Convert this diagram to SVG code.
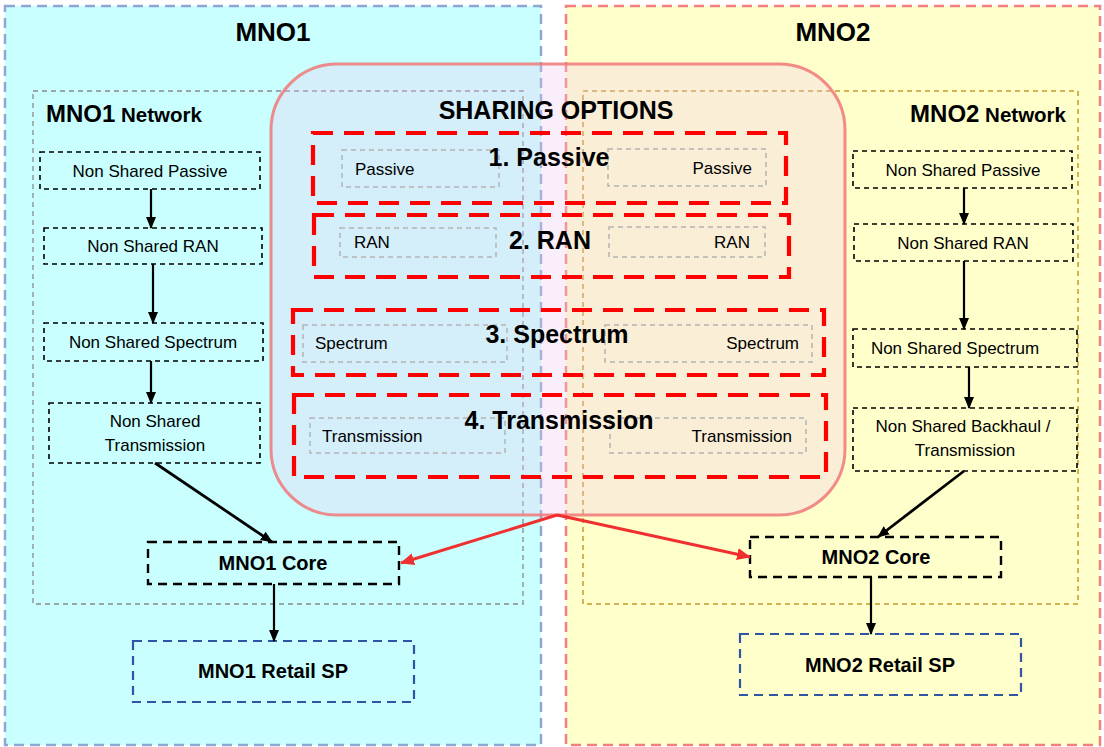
<svg xmlns="http://www.w3.org/2000/svg" width="1104" height="747" viewBox="0 0 1104 747">
<defs>
<marker id="ab" markerUnits="userSpaceOnUse" markerWidth="12" markerHeight="12" viewBox="0 0 12 12" refX="11" refY="6" orient="auto"><path d="M0,1 L12,6 L0,11 Z" fill="#000"/></marker>
<marker id="ar" markerUnits="userSpaceOnUse" markerWidth="14" markerHeight="14" viewBox="0 0 14 14" refX="13" refY="7" orient="auto"><path d="M0,1 L14,7 L0,13 Z" fill="#f03030"/></marker>
</defs>
<style>
text{font-family:"Liberation Sans",Arial,sans-serif;fill:#000}
.t{font-size:17px}
.b{font-weight:bold}
.c{text-anchor:middle}
.e{text-anchor:end}
.nb{fill:none;stroke:#000;stroke-width:1.6;stroke-dasharray:5 4}
.core{fill:none;stroke:#000;stroke-width:2.4;stroke-dasharray:9 6}
.ret{fill:none;stroke:#2f55a4;stroke-width:2.2;stroke-dasharray:9 6}
.gi{fill:none;stroke:#b4b4b4;stroke-width:1.5;stroke-dasharray:5 4}
.rb{fill:none;stroke:#ff0000;stroke-width:4.2;stroke-dasharray:20 11}
.ak{stroke:#000;stroke-width:2.2;fill:none;marker-end:url(#ab)}
.ad{stroke:#000;stroke-width:2.8;fill:none;marker-end:url(#ab)}
.ar{stroke:#f03030;stroke-width:3;fill:none;marker-end:url(#ar)}
</style>
<rect width="1104" height="747" fill="#fff"/>
<g id="mno1">
<rect x="5" y="6" width="536" height="739" fill="#c9ffff" stroke="#8fa8d2" stroke-width="2.5" stroke-dasharray="10 6"/>
<text x="273" y="41" class="b c" font-size="26">MNO1</text>
</g>
<g id="mno2">
<rect x="566" y="6" width="534" height="739" fill="#ffffcc" stroke="#f28080" stroke-width="2.5" stroke-dasharray="10 6"/>
<text x="833" y="41" class="b c" font-size="26">MNO2</text>
</g>
<g id="mno1-network">
<rect x="33" y="91" width="490" height="513" fill="none" stroke="#8a8a8a" stroke-width="1.3" stroke-dasharray="5 4"/>
<text x="46" y="122" class="b"><tspan font-size="24">MNO1</tspan><tspan font-size="20.5"> Network</tspan></text>
</g>
<g id="mno2-network">
<rect x="583" y="91" width="495" height="513" fill="none" stroke="#c39a2a" stroke-width="1.5" stroke-dasharray="5 4"/>
<text x="1066" y="122" class="b e"><tspan font-size="24">MNO2</tspan><tspan font-size="20.5"> Network</tspan></text>
</g>
<g id="sharing-options">
<rect x="271" y="64" width="574" height="451" rx="66" ry="66" fill="#f0c8f0" fill-opacity="0.3" stroke="#f07878" stroke-opacity="0.85" stroke-width="3"/>
<text x="556" y="119" class="b c" font-size="25">SHARING OPTIONS</text>
</g>
<g id="opt-passive">
<rect x="313" y="133" width="473" height="70" class="rb"/>
<rect x="342" y="150" width="157" height="37" class="gi"/>
<rect x="608" y="149" width="158" height="37" class="gi"/>
<text x="355" y="175" class="t">Passive</text>
<text x="752" y="174" class="t e">Passive</text>
<text x="549" y="166" class="b c" font-size="25">1. Passive</text>
</g>
<g id="opt-ran">
<rect x="314" y="215" width="475" height="62" class="rb"/>
<rect x="340" y="228" width="156" height="29" class="gi"/>
<rect x="609" y="227" width="156" height="30" class="gi"/>
<text x="354" y="248" class="t">RAN</text>
<text x="750" y="248" class="t e">RAN</text>
<text x="550" y="249" class="b c" font-size="25">2. RAN</text>
</g>
<g id="opt-spectrum">
<rect x="293" y="310" width="531" height="65" class="rb"/>
<rect x="303" y="325" width="204" height="37" class="gi"/>
<rect x="605" y="325" width="207" height="37" class="gi"/>
<text x="315" y="349" class="t">Spectrum</text>
<text x="799" y="349" class="t e">Spectrum</text>
<text x="557" y="343" class="b c" font-size="25">3. Spectrum</text>
</g>
<g id="opt-transmission">
<rect x="294" y="395" width="532" height="82" class="rb"/>
<rect x="310" y="418" width="195" height="35" class="gi"/>
<rect x="610" y="418" width="196" height="35" class="gi"/>
<text x="322" y="442" class="t">Transmission</text>
<text x="792" y="442" class="t e">Transmission</text>
<text x="559" y="429" class="b c" font-size="25">4. Transmission</text>
</g>
<g id="n1-passive"><rect x="40" y="152" width="220" height="37" class="nb"/><text x="150" y="177" class="t c">Non Shared Passive</text></g>
<g id="n1-ran"><rect x="44" y="228" width="218" height="36" class="nb"/><text x="153" y="252" class="t c">Non Shared RAN</text></g>
<g id="n1-spectrum"><rect x="44" y="323" width="219" height="38" class="nb"/><text x="153" y="348" class="t c">Non Shared Spectrum</text></g>
<g id="n1-transmission"><rect x="49" y="403" width="211" height="60" class="nb"/><text x="155" y="427" class="t c">Non Shared</text><text x="155" y="451" class="t c">Transmission</text></g>
<g id="n1-core"><rect x="148" y="542" width="251" height="42" class="core"/><text x="273" y="570" class="b c" font-size="20">MNO1 Core</text></g>
<g id="n1-retail"><rect x="133" y="641" width="281" height="61" class="ret"/><text x="273" y="678" class="b c" font-size="20">MNO1 Retail SP</text></g>
<g id="n2-passive"><rect x="853" y="151" width="219" height="37" class="nb"/><text x="963" y="176" class="t c">Non Shared Passive</text></g>
<g id="n2-ran"><rect x="854" y="224" width="219" height="37" class="nb"/><text x="963" y="249" class="t c">Non Shared RAN</text></g>
<g id="n2-spectrum"><rect x="853" y="329" width="224" height="38" class="nb"/><text x="955" y="354" class="t c">Non Shared Spectrum</text></g>
<g id="n2-backhaul"><rect x="853" y="408" width="224" height="63" class="nb"/><text x="963" y="432" class="t c">Non Shared Backhaul /</text><text x="965" y="456" class="t c">Transmission</text></g>
<g id="n2-core"><rect x="750" y="537" width="251" height="40" class="core"/><text x="876" y="564" class="b c" font-size="20">MNO2 Core</text></g>
<g id="n2-retail"><rect x="740" y="634" width="281" height="61" class="ret"/><text x="880" y="672" class="b c" font-size="20">MNO2 Retail SP</text></g>
<g id="connectors">
<line x1="151" y1="189" x2="151" y2="228" class="ak"/>
<line x1="153" y1="264" x2="153" y2="323" class="ak"/>
<line x1="151" y1="361" x2="151" y2="403" class="ak"/>
<line x1="155" y1="463" x2="272" y2="542" class="ad"/>
<line x1="274" y1="584" x2="274" y2="641" class="ak"/>
<line x1="964" y1="188" x2="964" y2="224" class="ak"/>
<line x1="964" y1="261" x2="964" y2="329" class="ak"/>
<line x1="969" y1="367" x2="969" y2="408" class="ak"/>
<line x1="964" y1="471" x2="878" y2="537" class="ad"/>
<line x1="871" y1="577" x2="871" y2="634" class="ak"/>
<line x1="557" y1="515" x2="401" y2="563" class="ar"/>
<line x1="557" y1="515" x2="750" y2="557" class="ar"/>
</g>
</svg>
